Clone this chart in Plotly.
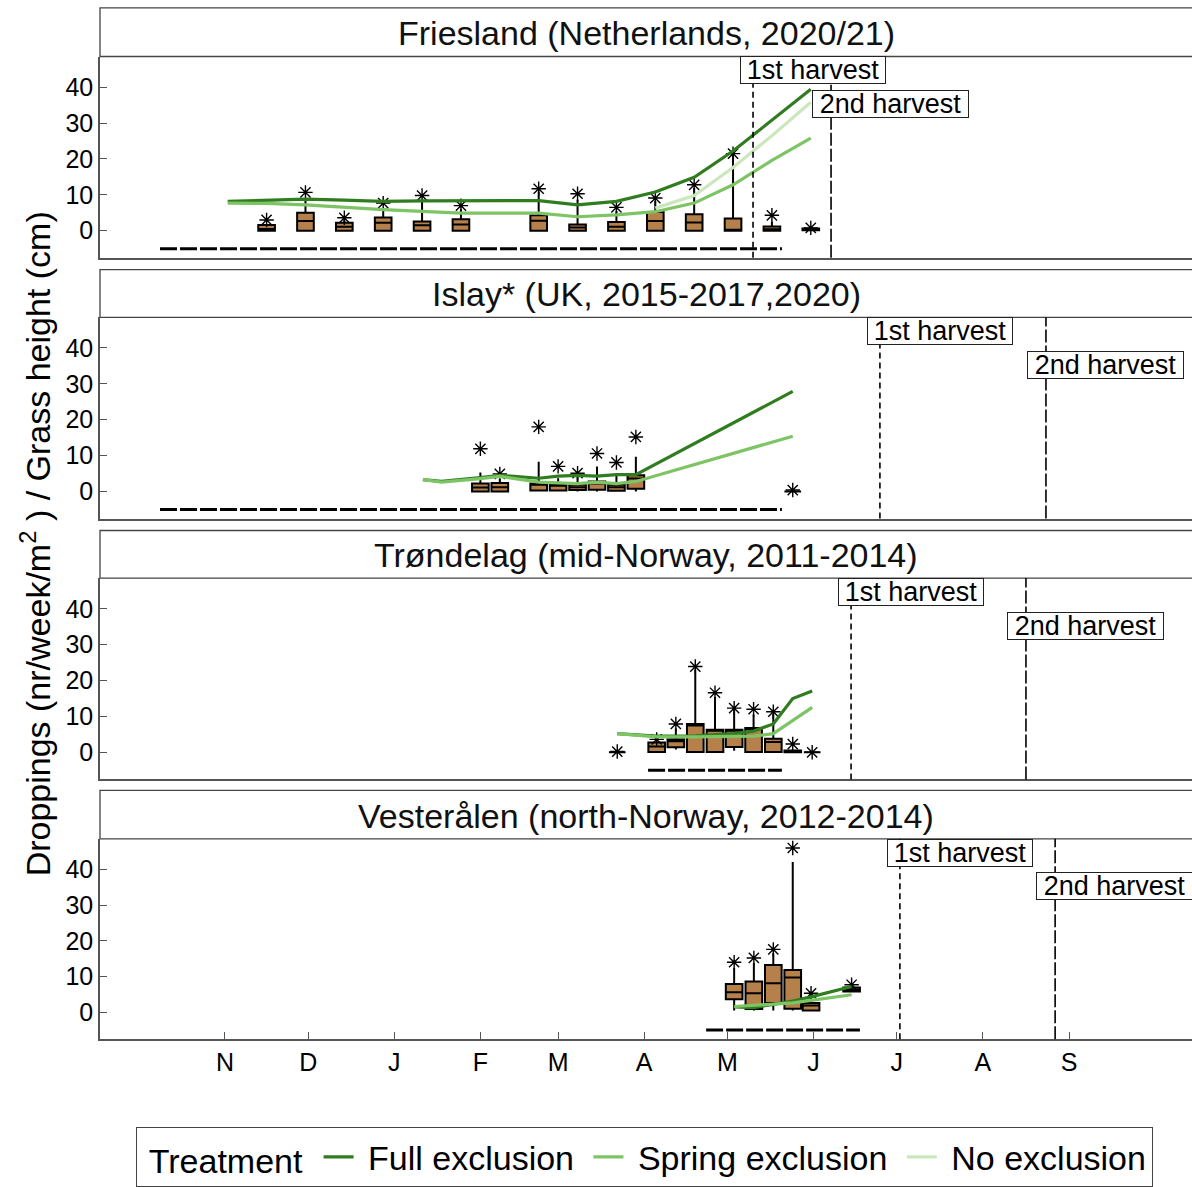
import plotly.graph_objects as go

W, H = 1192, 1187

# ---------------- data ----------------
MONTH_DAYS = [0, 30, 61, 92, 120, 151, 181, 212, 242, 273, 304]   # days since 1 Nov
MONTH_LABELS = ["N", "D", "J", "F", "M", "A", "M", "J", "J", "A", "S"]

PANEL_TITLES = [
    "Friesland (Netherlands, 2020/21)",
    "Islay* (UK, 2015-2017,2020)",
    "Trøndelag (mid-Norway, 2011-2014)",
    "Vesterålen (north-Norway, 2012-2014)",
]

TREATMENTS = ["Full exclusion", "Spring exclusion", "No exclusion"]
TREAT_COLORS = ["#2f7d1f", "#7cc464", "#cbe8bd"]

# Droppings boxplots (per panel)
P1_BOX_DAY = [15, 29, 43, 57, 71, 85, 113, 127, 141, 155, 169, 183, 197, 211]
P1_Q1 = [0, 0, 0, 0, 0, 0, 0, 0, 0, 0, 0, 0, 0, 0.1]
P1_MED = [0.5, 2.7, 1.1, 2.2, 1.5, 1.7, 2.8, 0.9, 1.1, 2.7, 2.3, 0, 0.4, 0.3]
P1_Q3 = [1.6, 5.0, 2.2, 3.7, 2.6, 3.2, 4.3, 1.7, 2.4, 5.2, 4.6, 3.4, 1.2, 0.6]
P1_LOW = [0, 0, 0, 0, 0, 0, 0, 0, 0, 0, 0, 0, 0, 0.1]
P1_UP = [1.6, 8.6, 3.0, 6.3, 8.6, 6.0, 10.9, 8.6, 5.5, 8.3, 11.9, 21.0, 2.5, 0.6]
P1_OUT = [3.0, 10.7, 3.6, 7.7, 9.8, 7.0, 11.7, 10.3, 6.5, 9.1, 12.8, 21.5, 4.3, 0.8]

P2_BOX_DAY = [92, 99, 113, 120, 127, 134, 141, 148, 204.5]
P2_Q1 = [0, 0, 0.3, 0.3, 0.4, 0.5, 0.2, 0.8, 0]
P2_MED = [1.1, 1.2, 1.9, 1.6, 1.2, 2.2, 1.2, 3.6, 0]
P2_Q3 = [2.2, 2.4, 2.2, 2.0, 1.9, 2.8, 1.9, 4.5, 0]
P2_LOW = [0, 0, 0, 0, 0, 0, 0, 0, 0]
P2_UP = [5.3, 3.5, 8.3, 3.7, 4.6, 7.0, 4.9, 9.7, 0]
P2_OUT = [11.9, 4.9, 18.0, 7.0, 5.1, 10.6, 8.1, 15.2, 0.4]

P3_BOX_DAY = [141.3, 155.5, 162.4, 169.4, 176.5, 183.4, 190.4, 197.5, 204.5, 211.5]
P3_Q1 = [0, 0.1, 1.4, 0.1, 0.1, 1.5, 0.1, 0.1, 0, 0]
P3_MED = [0, 1.6, 3.1, 7.5, 6.1, 6.2, 6.5, 2.9, 0.2, 0]
P3_Q3 = [0, 2.7, 3.6, 7.9, 6.3, 6.3, 6.8, 3.8, 0.5, 0]
P3_LOW = [0, 0, 0.8, 0, 0, 0.4, 0, 0, 0, 0]
P3_UP = [0, 3.0, 6.6, 23.0, 15.4, 12.0, 10.5, 10.7, 0.5, 0]
P3_OUT = [0.2, 3.6, 7.9, 23.9, 16.6, 12.3, 12.0, 11.3, 2.3, 0.0]

P4_BOX_DAY = [183.4, 190.5, 197.5, 204.5, 211.1, 225.7]
P4_Q1 = [3.6, 0.9, 2.6, 1.0, 0.5, 5.8]
P4_MED = [5.6, 5.3, 8.1, 9.7, 1.9, 6.3]
P4_Q3 = [7.9, 8.6, 13.2, 11.8, 2.6, 6.9]
P4_LOW = [0.5, 0.5, 0.5, 0.5, 0.5, 5.8]
P4_UP = [12.4, 13.8, 16.5, 42.1, 4.7, 6.9]
P4_OUT = [14.0, 15.2, 17.6, 46.0, 5.3, 7.7]

# Grass height lines (per panel, per treatment)
P1_FULL_DAY = [1, 15, 29, 43, 57, 71, 85, 113, 127, 141, 155, 169, 183, 197, 211]
P1_FULL = [8.2, 8.5, 8.8, 8.5, 8.2, 8.3, 8.3, 8.4, 7.2, 8.2, 10.8, 14.9, 22.2, 30.8, 39.4]
P1_SPRING_DAY = [1, 15, 29, 43, 57, 71, 85, 113, 127, 141, 155, 169, 183, 197, 211]
P1_SPRING = [7.7, 7.6, 7.2, 6.5, 5.9, 5.4, 4.9, 4.9, 3.9, 4.4, 5.3, 7.7, 12.8, 19.6, 25.8]
P1_NO_DAY = [155, 169, 183, 197, 211]
P1_NO = [6.3, 9.8, 17.6, 26.5, 35.8]

P2_FULL_DAY = [71.3, 78, 92, 99, 113, 120, 127, 134, 141, 148, 204.5]
P2_FULL = [3.3, 2.8, 3.9, 4.5, 3.7, 4.3, 4.5, 4.3, 4.7, 4.7, 27.9]
P2_SPRING_DAY = [71.3, 78, 92, 99, 113, 120, 127, 134, 141, 148, 204.5]
P2_SPRING = [3.3, 2.6, 3.6, 4.2, 2.6, 2.4, 2.2, 2.6, 2.2, 2.8, 15.4]

P3_FULL_DAY = [141.3, 155.5, 169.4, 176.5, 183.4, 190.4, 197.5, 204.5, 211.5]
P3_FULL = [5.2, 4.5, 4.6, 4.9, 5.2, 5.9, 7.9, 15.0, 17.1]
P3_SPRING_DAY = [141.3, 155.5, 169.4, 183.4, 190.4, 197.5, 211.5]
P3_SPRING = [5.2, 4.3, 4.3, 4.3, 4.5, 5.2, 12.5]

P4_FULL_DAY = [183.4, 190.5, 197.5, 204.5, 211.1, 225.7]
P4_FULL = [1.5, 1.3, 2.2, 3.1, 4.3, 7.2]
P4_SPRING_DAY = [183.4, 190.5, 197.5, 204.5, 211.1, 225.7]
P4_SPRING = [1.6, 2.0, 2.2, 2.6, 3.3, 4.9]

# exclusion period (dashed line at y = -5) and harvest dates
PERIOD_START = [-23.4, -23.4, 152.4, 173.3]
PERIOD_END = [200.6, 200.6, 200.6, 228.7]
PERIOD_Y = -5
HARVEST1 = [190.2, 235.9, 225.5, 243.1]
HARVEST2 = [218.3, 295.7, 288.5, 299.0]
HARVEST_LABELS = ["1st harvest", "2nd harvest"]
HARVEST_LABEL_Y = [44.7, 35.3]

BOXES = [
    (P1_BOX_DAY, P1_Q1, P1_MED, P1_Q3, P1_LOW, P1_UP, P1_OUT),
    (P2_BOX_DAY, P2_Q1, P2_MED, P2_Q3, P2_LOW, P2_UP, P2_OUT),
    (P3_BOX_DAY, P3_Q1, P3_MED, P3_Q3, P3_LOW, P3_UP, P3_OUT),
    (P4_BOX_DAY, P4_Q1, P4_MED, P4_Q3, P4_LOW, P4_UP, P4_OUT),
]
LINES = [
    [(P1_FULL_DAY, P1_FULL), (P1_SPRING_DAY, P1_SPRING), (P1_NO_DAY, P1_NO)],
    [(P2_FULL_DAY, P2_FULL), (P2_SPRING_DAY, P2_SPRING), None],
    [(P3_FULL_DAY, P3_FULL), (P3_SPRING_DAY, P3_SPRING), None],
    [(P4_FULL_DAY, P4_FULL), (P4_SPRING_DAY, P4_SPRING), None],
]

# ---------------- layout geometry (pixels) ----------------
X_LEFT = 100
PLOT_PX = [(57, 260), (320, 523), (583, 786), (846, 1048)]
STRIP_PX = [(8, 57), (272, 320), (535, 583), (797, 846)]
X_RANGE = [-45.0, 348.3]
Y_RANGE = [-7.55, 48.55]

FONT = "Liberation Sans, Arial, sans-serif"
AXIS_COL = "#555555"
BOX_FILL = "#b5804a"
NB = "\u00a0"


def py(p):
    return 1 - p / H


fig = go.Figure()
layout = dict(
    width=W, height=H,
    margin=dict(l=0, r=0, t=0, b=0),
    paper_bgcolor="white", plot_bgcolor="white",
    font=dict(family=FONT, color="black"),
    showlegend=True,
    template="none",
)

shapes, annotations = [], []

for i in range(4):
    n = i + 1
    xa = "x" if n == 1 else f"x{n}"
    ya = "y" if n == 1 else f"y{n}"
    xkey = "xaxis" if n == 1 else f"xaxis{n}"
    ykey = "yaxis" if n == 1 else f"yaxis{n}"
    top, bot = PLOT_PX[i]
    last = (i == 3)
    layout[xkey] = dict(
        domain=[X_LEFT / W, 1.0], anchor=ya, range=X_RANGE,
        showgrid=False, zeroline=False, showline=True, linecolor=AXIS_COL, linewidth=1.5,
        tickvals=MONTH_DAYS if last else [], ticktext=MONTH_LABELS if last else [],
        ticks="inside" if last else "", ticklen=7, tickcolor=AXIS_COL, tickwidth=1,
        tickfont=dict(size=25, color="black", family=FONT),
        showticklabels=last,
    )
    layout[ykey] = dict(
        domain=[py(bot), py(top)], anchor=xa, range=Y_RANGE,
        showgrid=False, zeroline=False, showline=True, linecolor=AXIS_COL, linewidth=1.5,
        tickvals=[0, 10, 20, 30, 40], ticks="inside", ticklen=7, tickcolor=AXIS_COL,
        tickfont=dict(size=25, color="black", family=FONT),
    )

    # exclusion period dashed line
    fig.add_trace(go.Scatter(
        x=[PERIOD_START[i], PERIOD_END[i]], y=[PERIOD_Y, PERIOD_Y],
        mode="lines", line=dict(color="black", width=3, dash="17px,3px"),
        xaxis=xa, yaxis=ya, showlegend=False, hoverinfo="skip",
    ))

    # boxplots
    bd, q1, med, q3, lo, up, out = BOXES[i]
    fig.add_trace(go.Box(
        x=bd, q1=q1, median=med, q3=q3, lowerfence=lo, upperfence=up,
        width=6, whiskerwidth=0, boxpoints=False,
        fillcolor=BOX_FILL, line=dict(color="black", width=2),
        xaxis=xa, yaxis=ya, showlegend=False, hoverinfo="skip",
    ))
    fig.add_trace(go.Scatter(
        x=bd, y=out, mode="markers",
        marker=dict(symbol="asterisk-open", size=12, color="black",
                    line=dict(color="black", width=1.4)),
        xaxis=xa, yaxis=ya, showlegend=False, hoverinfo="skip",
    ))

    # grass height lines
    for t in range(3):
        ln = LINES[i][t]
        if ln is None:
            continue
        label = NB + TREATMENTS[t] + (NB if t < 2 else "")
        fig.add_trace(go.Scatter(
            x=ln[0], y=ln[1], mode="lines", name=label,
            line=dict(color=TREAT_COLORS[t], width=3.2),
            legendgroup=TREATMENTS[t], showlegend=(i == 0),
            xaxis=xa, yaxis=ya, hoverinfo="skip",
        ))

    # harvest lines + labels
    for h, (hx, dash) in enumerate([(HARVEST1[i], "6px,4px"), (HARVEST2[i], "13px,3px")]):
        shapes.append(dict(type="line", xref=xa, yref=f"{ya} domain",
                           x0=hx, x1=hx, y0=0, y1=1,
                           line=dict(color="black", width=1.6, dash=dash)))
        annotations.append(dict(
            xref=xa, yref=ya, x=hx, y=HARVEST_LABEL_Y[h],
            text=HARVEST_LABELS[h], showarrow=False,
            xanchor="left", yanchor="middle", xshift=-13 if h == 0 else -19,
            font=dict(size=27, family=FONT, color="black"),
            bgcolor="white", bordercolor="#222222", borderwidth=1,
            borderpad=0, width=144 if h == 0 else 155, height=26,
        ))

    # strip
    s_top, s_bot = STRIP_PX[i]
    shapes.append(dict(type="rect", xref="paper", yref="paper",
                       x0=X_LEFT / W, x1=1.0 + 2 / W, y0=py(s_bot), y1=py(s_top),
                       line=dict(color="#444444", width=1.3), fillcolor="white",
                       layer="below"))
    annotations.append(dict(
        xref="paper", yref="paper", x=(X_LEFT + W) / 2 / W, y=py((s_top + s_bot) / 2 + 1),
        text=PANEL_TITLES[i], showarrow=False, xanchor="center", yanchor="middle",
        font=dict(size=34, family=FONT, color="#111111"),
    ))

# y-axis title
annotations.append(dict(
    xref="paper", yref="paper", x=35 / W, y=py(549),
    text="Droppings (nr/week/m<sup>2</sup> ) / Grass height (cm)",
    showarrow=False, textangle=-90, xanchor="center", yanchor="middle",
    font=dict(size=34, family=FONT, color="black"),
))

layout["shapes"] = shapes
layout["annotations"] = annotations
layout["legend"] = dict(
    orientation="h", x=136 / W, y=py(1137), xanchor="left", yanchor="top",
    title=dict(text=NB + "Treatment" + NB, side="left", font=dict(size=34, family=FONT)),
    font=dict(size=34, family=FONT, color="black"),
    bordercolor="#444444", borderwidth=1.3, bgcolor="white",
    itemwidth=30, tracegroupgap=0,
)
fig.update_layout(**layout)

fig.write_html(
    "out.html",
    config={"displayModeBar": False},
    post_script="document.body.style.margin='0px';document.body.style.overflow='hidden';",
)
